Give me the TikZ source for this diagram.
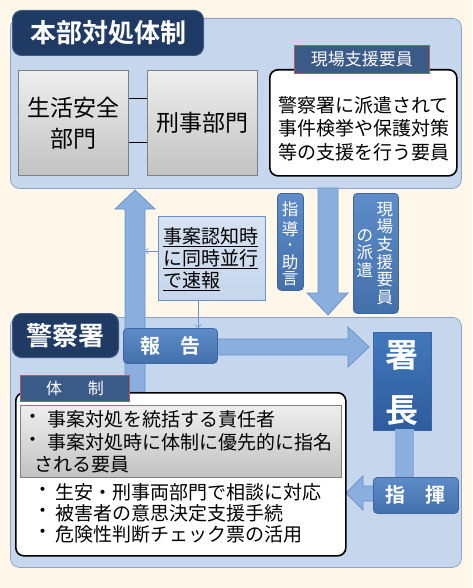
\documentclass[tikz,border=0pt]{standalone}
\usepackage{fontspec}
\setmainfont{Noto Sans CJK JP}[BoldFont={Noto Sans CJK JP Bold}]
\usetikzlibrary{arrows.meta}
\definecolor{bgcream}{HTML}{FFF7EA}
\definecolor{panelfill}{HTML}{C6D6EC}
\definecolor{panelline}{HTML}{8FA4C4}
\definecolor{navy}{HTML}{1F3B64}
\definecolor{navyedge}{HTML}{3E5C86}
\definecolor{labelfill}{HTML}{3A5A88}
\definecolor{labeledge}{HTML}{B55A5A}
\definecolor{bluetop}{HTML}{5D8CC8}
\definecolor{bluebot}{HTML}{4470AA}
\definecolor{blueedge}{HTML}{3C66A2}
\definecolor{chieftop}{HTML}{4178BC}
\definecolor{chiefbot}{HTML}{2E5C9C}
\definecolor{arrowfill}{HTML}{8AAEDD}
\definecolor{arrowedge}{HTML}{6B93CB}
\definecolor{graytop}{HTML}{EEEEEE}
\definecolor{graybot}{HTML}{C2C2C2}
\definecolor{grayedge}{HTML}{7F7F7F}
\tikzset{
  panel/.style={draw=panelline, line width=0.8pt, fill=panelfill, rounded corners=9pt, anchor=north west, inner sep=0pt},
  header/.style={draw=navyedge, line width=1pt, fill=navy, rounded corners=9pt, anchor=north west, text=white, inner sep=0pt, font=\fontsize{26}{28}\selectfont\bfseries},
  label/.style={draw=labeledge, line width=0.9pt, fill=labelfill, anchor=north west, text=white, inner sep=0pt, font=\fontsize{17}{19}\selectfont},
  graybox/.style={draw=grayedge, line width=0.8pt, top color=graytop, bottom color=graybot, anchor=north west, inner sep=0pt, align=center, font=\fontsize{23}{31}\selectfont},
  whitebox/.style={draw=black, line width=1.6pt, fill=white, rounded corners=8pt, anchor=north west, inner sep=0pt},
  bluebox/.style={draw=blueedge, line width=0.8pt, top color=bluetop, bottom color=bluebot, rounded corners=4pt, anchor=north west, text=white, inner sep=0pt},
  chief/.style={draw=blueedge, line width=0.6pt, top color=chieftop, bottom color=chiefbot, anchor=north west, text=white, inner sep=0pt},
  blockarrow/.style={draw=arrowedge, line width=0.8pt, fill=arrowfill},
  txt/.style={inner sep=0pt, anchor=west, font=\fontsize{19}{21}\selectfont},
  vtxt/.style={inner sep=0pt, text=white, align=center, font=\fontsize{16.5}{17.7}\selectfont},
  vch/.style={inner sep=0pt, text=white, font=\fontsize{16.5}{17}\selectfont},
  thin/.style={draw=arrowedge, line width=0.7pt, -{Straight Barb[length=3pt,width=6pt]}},
}
\begin{document}
\begin{tikzpicture}[x=1pt,y=-1pt]
\useasboundingbox (0,0) rectangle (472,588);
\fill[bgcream] (0,0) rectangle (472,588);

% ---------- top panel ----------
\node[panel, minimum width=451pt, minimum height=170pt] (toppanel) at (10,18) {};
\node[header, minimum width=191pt, minimum height=45pt] (tophead) at (12,10) {本部対処体制};
\node[graybox, minimum width=110pt, minimum height=105pt] (seian) at (18,70) {生活安全\\部門};
\node[graybox, minimum width=110pt, minimum height=105pt] (keiji) at (147,70) {刑事部門};
\draw[black, line width=0.8pt] ([yshift=-28pt]seian.north east) -- ([yshift=-28pt]keiji.north west);
\draw[black, line width=0.8pt] ([yshift=-72pt]seian.north east) -- ([yshift=-72pt]keiji.north west);
\node[whitebox, minimum width=187pt, minimum height=106pt] (support) at (269,69) {};
\node[label, minimum width=135pt, minimum height=28pt] (supportlab) at (294,45) {現場支援要員};
\node[txt] (sup1) at (278,105) {警察署に派遣されて};
\node[txt] (sup2) at (278,128.5) {事件検挙や保護対策};
\node[txt] (sup3) at (278,152) {等の支援を行う要員};

% ---------- lower panel ----------
\node[panel, minimum width=451pt, minimum height=250pt] (lowpanel) at (10,317) {};

% up arrow (report)
\path[blockarrow] (125,392) -- (125,209) -- (115,209) -- (135,190) -- (155,209) -- (145,209) -- (145,392) -- cycle;
\coordinate (upshaft) at (145,251);

% down arrow
\path[blockarrow] (318,188) -- (318,293) -- (307,293) -- (328,315) -- (348,293) -- (338,293) -- (338,188) -- cycle;

% right arrow to chief
\path[blockarrow] (210,339) -- (348,339) -- (348,327) -- (369,347) -- (348,367) -- (348,355) -- (210,355) -- cycle;

\node[header, minimum width=106pt, minimum height=44pt] (lowhead) at (12,313) {警察署};

% quick report box
\node[draw=arrowedge, line width=0.8pt, top color=panelfill!70!white, bottom color=panelfill, anchor=north west, inner sep=0pt, minimum width=107pt, minimum height=84pt] (quick) at (158,216) {};
\node[inner sep=0pt, anchor=north west, align=left, font=\fontsize{19}{22}\selectfont] (quicktxt) at (163,227) {\underline{事案認知時}\\\underline{に同時並行}\\\underline{で速報}};
\draw[thin] (quick.west |- upshaft) -- (upshaft);

% report label
\node[bluebox, minimum width=94pt, minimum height=35pt, font=\fontsize{20}{22}\selectfont\bfseries] (report) at (123,328) {報\hspace{1em}告};
\draw[thin] (quick.south -| 198,0) -- (report.north -| 198,0);

% guidance / dispatch labels
\node[bluebox, minimum width=26pt, minimum height=97pt] (guide) at (277,193) {};
\node[vch] (g1) at (290,209) {指};
\node[vch] (g2) at (290,229) {導};
\node[vch, font=\fontsize{12}{12}\selectfont] (g3) at (290,246.5) {・};
\node[vch] (g4) at (290,262) {助};
\node[vch] (g5) at (290,279) {言};
\node[bluebox, minimum width=45pt, minimum height=120pt] (dispatch) at (353,193) {};
\node[vtxt] (dispR) at ([xshift=9pt]dispatch.center) {現\\場\\支\\援\\要\\員};
\node[vtxt] (dispL) at ([xshift=-11pt]dispatch.center) {の\\派\\遣};

% chief
\node[chief, minimum width=58pt, minimum height=98pt] (chiefbox) at (373,332) {};
\node[inner sep=0pt, text=white, font=\fontsize{33}{35}\selectfont\bfseries] (sho) at (402,355) {署};
\node[inner sep=0pt, text=white, font=\fontsize{33}{35}\selectfont\bfseries] (cho) at (402,411) {長};

% command
\fill[arrowfill] (395,429) rectangle (414,480);
\path[blockarrow] (375,486) -- (363,486) -- (363,476) -- (346,493) -- (363,510) -- (363,501) -- (375,501);
\node[bluebox, minimum width=85pt, minimum height=36pt, font=\fontsize{20}{22}\selectfont\bfseries] (command) at (373,477) {指\hspace{1em}揮};

% system box
\node[whitebox, minimum width=330pt, minimum height=163pt] (system) at (15,392) {};
\node[draw=grayedge, line width=0.8pt, top color=graytop, bottom color=graybot, anchor=north west, inner sep=0pt, minimum width=321pt, minimum height=72pt] (band) at (20,405) {};
\node[label, minimum width=109pt, minimum height=26pt, font=\fontsize{16}{18}\selectfont] (systemlab) at (20,375) {体\hspace{1.6em}制};

\node[txt] (b1) at (23,419) {・};
\node[txt] (t1) at (47,419) {事案対処を統括する責任者};
\node[txt] (b2) at (23,442) {・};
\node[txt] (t2) at (47,442) {事案対処時に体制に優先的に指名};
\node[txt] (t2b) at (34,465) {される要員};
\node[txt] (b3) at (33,492) {・};
\node[txt] (t3) at (55,492) {生安・刑事両部門で相談に対応};
\node[txt] (b4) at (33,513) {・};
\node[txt] (t4) at (55,513) {被害者の意思決定支援手続};
\node[txt] (b5) at (33,534) {・};
\node[txt] (t5) at (55,534) {危険性判断チェック票の活用};
\end{tikzpicture}
\end{document}
